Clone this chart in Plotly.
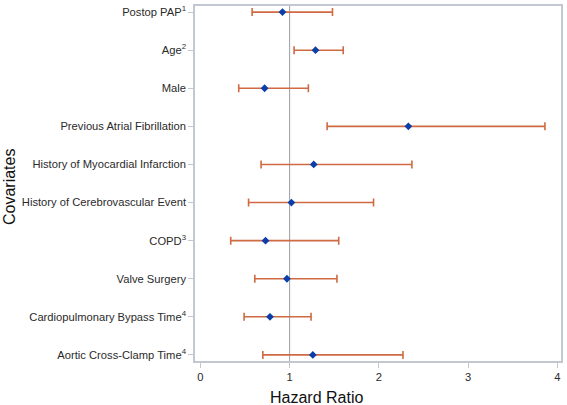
import plotly.graph_objects as go

covariates = [
    "Postop PAP<sup>1</sup>",
    "Age<sup>2</sup>",
    "Male",
    "Previous Atrial Fibrillation",
    "History of Myocardial Infarction",
    "History of Cerebrovascular Event",
    "COPD<sup>3</sup>",
    "Valve Surgery",
    "Cardiopulmonary Bypass Time<sup>4</sup>",
    "Aortic Cross-Clamp Time<sup>4</sup>",
]
hazard_ratio = [0.92, 1.29, 0.72, 2.33, 1.27, 1.02, 0.73, 0.97, 0.78, 1.26]
ci_lower = [0.58, 1.05, 0.43, 1.42, 0.68, 0.54, 0.34, 0.61, 0.49, 0.70]
ci_upper = [1.48, 1.60, 1.21, 3.86, 2.37, 1.94, 1.55, 1.53, 1.24, 2.27]
x_ticks = [0, 1, 2, 3, 4]
reference_value = 1

err_plus = [u - h for u, h in zip(ci_upper, hazard_ratio)]
err_minus = [h - l for h, l in zip(hazard_ratio, ci_lower)]

fig = go.Figure()
fig.add_trace(go.Scatter(
    x=hazard_ratio,
    y=covariates,
    mode="markers",
    marker=dict(symbol="diamond", size=6, color="#0b3ea8"),
    error_x=dict(type="data", symmetric=False, array=err_plus, arrayminus=err_minus,
                 color="#cf6a43", thickness=1.6, width=4),
    showlegend=False,
))

fig.add_shape(type="line", xref="x", yref="paper", x0=reference_value, x1=reference_value,
              y0=0, y1=1, line=dict(color="#9a9ea6", width=1), layer="below")

axis_color = "#c3c7cf"
fig.update_layout(
    width=567, height=405,
    margin=dict(l=195, r=4, t=4, b=44),
    paper_bgcolor="white", plot_bgcolor="white",
    font=dict(family="Liberation Sans, Arial, sans-serif", size=11.2, color="#2a2a2a"),
    xaxis=dict(range=[-0.06, 4.04], tickvals=x_ticks, showgrid=False, zeroline=False,
               showline=True, linecolor=axis_color, linewidth=1.5, mirror=True,
               ticks="outside", ticklen=5, tickcolor=axis_color, tickfont=dict(size=11.2)),
    yaxis=dict(categoryorder="array", categoryarray=covariates, autorange=False,
               range=[9.16, -0.16], showgrid=False, zeroline=False,
               showline=True, linecolor=axis_color, linewidth=1.5, mirror=True,
               ticks="outside", ticklen=5, tickcolor=axis_color, tickfont=dict(size=11.2)),
    annotations=[
        dict(text="Hazard Ratio", xref="paper", yref="paper", x=0.331, y=0, yshift=-36,
             showarrow=False, font=dict(size=16, color="#111"), xanchor="center", yanchor="middle"),
        dict(text="Covariates", xref="paper", yref="paper", x=0, xshift=-186, y=0.49,
             textangle=-90, showarrow=False, font=dict(size=16, color="#111"),
             xanchor="center", yanchor="middle"),
    ],
)

fig.write_html("out.html", config={"displayModeBar": False},
               post_script="document.body.style.margin='0';")
